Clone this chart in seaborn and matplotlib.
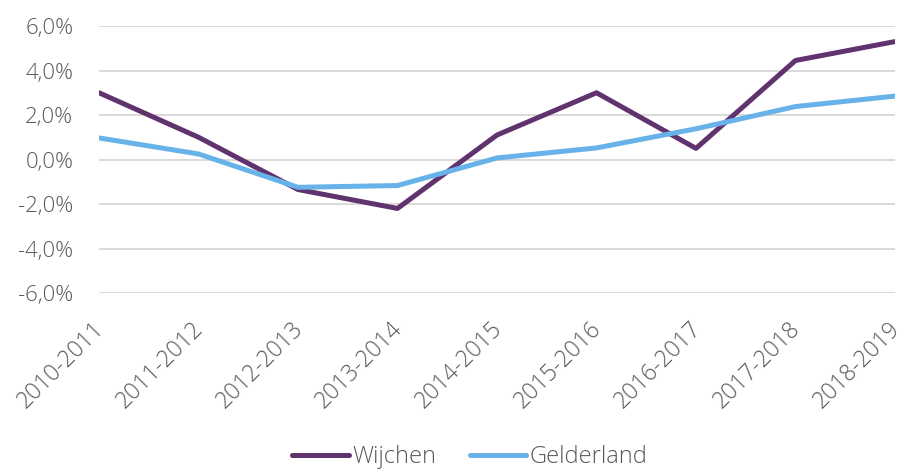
import pandas as pd
import matplotlib.pyplot as plt
import matplotlib.transforms as mtransforms
import seaborn as sns
from matplotlib.ticker import FuncFormatter

periods = ['2010-2011', '2011-2012', '2012-2013', '2013-2014', '2014-2015',
           '2015-2016', '2016-2017', '2017-2018', '2018-2019']
wijchen = [3.0, 1.0, -1.35, -2.2, 1.1, 3.0, 0.5, 4.45, 5.3]
gelderland = [0.97, 0.25, -1.25, -1.17, 0.07, 0.52, 1.38, 2.38, 2.85]

df = pd.DataFrame({'periode': periods * 2,
                   'groei': wijchen + gelderland,
                   'gebied': ['Wijchen'] * len(periods) + ['Gelderland'] * len(periods)})

sns.set_style('white')
plt.rcParams['font.family'] = ['Open Sans', 'DejaVu Sans']
grey = '#595959'

fig = plt.figure(figsize=(9.05, 4.69), dpi=100)
ax = fig.add_axes([99 / 905, 1 - 293 / 469, 796 / 905, 267 / 469])

sns.lineplot(data=df, x='periode', y='groei', hue='gebied', sort=False,
             palette={'Wijchen': '#60336f', 'Gelderland': '#67b2e8'},
             linewidth=3.6, ax=ax, legend=False, zorder=3)

ax.set_xlim(0, len(periods) - 1)
ax.set_ylim(-6, 6)
ax.set_yticks([-6, -4, -2, 0, 2, 4, 6])
ax.yaxis.set_major_formatter(FuncFormatter(lambda v, p: f'{v:.1f}%'.replace('.', ',')))
ax.grid(axis='y', color='#d9d9d9', linewidth=1.4)
ax.grid(axis='x', visible=False)
for s in ax.spines.values():
    s.set_visible(False)
ax.set_xlabel('')
ax.set_ylabel('')
ax.tick_params(axis='y', length=0, pad=18.5, labelsize=16, labelcolor=grey)
ax.tick_params(axis='x', length=0, pad=12, labelsize=16.5, labelcolor=grey)
for lab in ax.get_yticklabels() + ax.get_xticklabels():
    lab.set_fontweight('light')
plt.setp(ax.get_xticklabels(), rotation=45, ha='right', rotation_mode='anchor')
# nudge the rotated labels a little left and down, like the original
shift = mtransforms.ScaledTranslation(-7 / 100, -7 / 100, fig.dpi_scale_trans)
for lab in ax.get_xticklabels():
    lab.set_transform(lab.get_transform() + shift)

handles = [plt.Line2D([], [], color='#60336f', linewidth=3.6, solid_capstyle='round'),
           plt.Line2D([], [], color='#67b2e8', linewidth=3.6, solid_capstyle='round')]
leg = fig.legend(handles, ['Wijchen', 'Gelderland'], loc='center', bbox_to_anchor=(470 / 905, 1 - 457 / 469),
                 ncol=2, frameon=False, handlelength=2.4, handletextpad=0.15, columnspacing=1.4,
                 prop={'size': 17, 'weight': 'light'})
for t in leg.get_texts():
    t.set_color(grey)

fig.savefig('out.png', dpi=100)
